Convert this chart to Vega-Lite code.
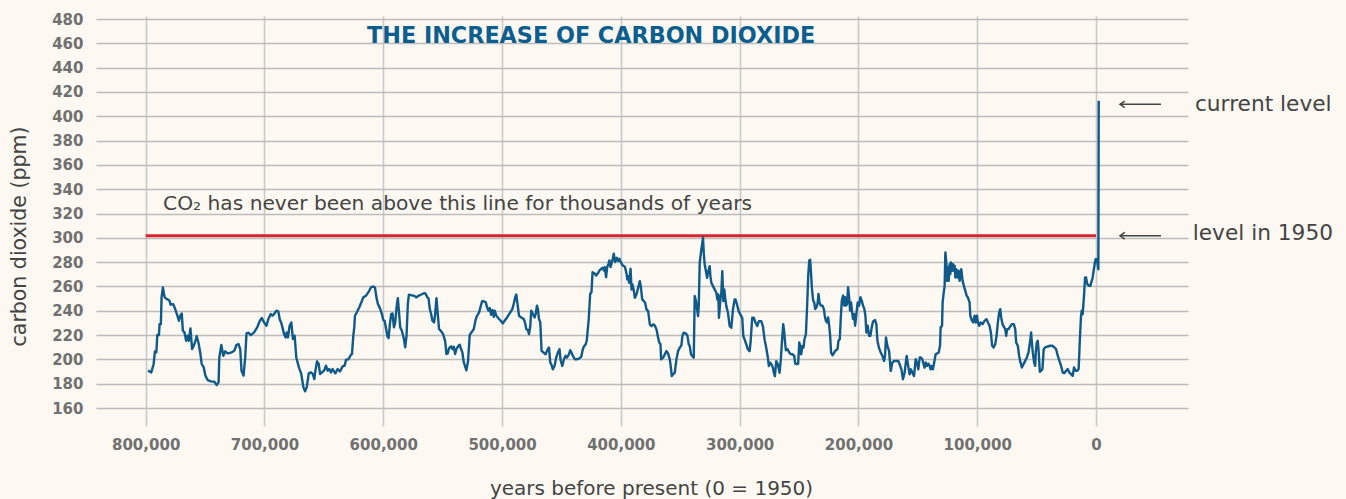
{
  "$schema": "https://vega.github.io/schema/vega-lite/v6.json",
  "width": 1092,
  "height": 392,
  "autosize": {"type": "none"},
  "padding": {"left": 96, "top": 16, "right": 158, "bottom": 91},
  "background": "#fdf9f2",
  "config": {
    "view": {"stroke": null},
    "axis": {"labelFont": "DejaVu Sans", "labelFontWeight": "bold", "labelFontSize": 15, "labelColor": "#707070"}
  },
  "datasets": {
    "co2": [
      {"year":798000,"ppm":190.7},{"year":795300,"ppm":189.3},{"year":793300,"ppm":196},{"year":792200,"ppm":206.6},{"year":791000,"ppm":205.8},{"year":790200,"ppm":220},{"year":788800,"ppm":220},{"year":788300,"ppm":229},{"year":787200,"ppm":229},{"year":786600,"ppm":251},{"year":785500,"ppm":259.2},{"year":784000,"ppm":251},{"year":782100,"ppm":249.6},{"year":779900,"ppm":248.2},{"year":779000,"ppm":245},{"year":777000,"ppm":245.5},{"year":775400,"ppm":242.2},{"year":773700,"ppm":237.3},{"year":772000,"ppm":231.8},{"year":770900,"ppm":235.9},{"year":769600,"ppm":237.8},{"year":768700,"ppm":223.6},{"year":767300,"ppm":222.2},{"year":765900,"ppm":215.3},{"year":764800,"ppm":219.5},{"year":763700,"ppm":215.3},{"year":762300,"ppm":225.5},{"year":760900,"ppm":208.5},{"year":759500,"ppm":211.2},{"year":758100,"ppm":215.3},{"year":757000,"ppm":219.2},{"year":755300,"ppm":212.6},{"year":753900,"ppm":204.4},{"year":752800,"ppm":196.2},{"year":751100,"ppm":193.4},{"year":749700,"ppm":186.6},{"year":747800,"ppm":183},{"year":745000,"ppm":181.9},{"year":742200,"ppm":181.6},{"year":740200,"ppm":178.9},{"year":738600,"ppm":181.1},{"year":738000,"ppm":201.6},{"year":736300,"ppm":211.8},{"year":734600,"ppm":203},{"year":733000,"ppm":206.6},{"year":731000,"ppm":204.9},{"year":728200,"ppm":205.5},{"year":725400,"ppm":207.1},{"year":723500,"ppm":212},{"year":721800,"ppm":212.6},{"year":720400,"ppm":208.5},{"year":719300,"ppm":190.7},{"year":717600,"ppm":186.6},{"year":716200,"ppm":201.6},{"year":715100,"ppm":221.4},{"year":713400,"ppm":221.9},{"year":711500,"ppm":220},{"year":708700,"ppm":222.2},{"year":705900,"ppm":226.8},{"year":703900,"ppm":231.8},{"year":702200,"ppm":234},{"year":700300,"ppm":230.4},{"year":698300,"ppm":227.7},{"year":696700,"ppm":233.2},{"year":694700,"ppm":237.3},{"year":693300,"ppm":235.9},{"year":691900,"ppm":237.3},{"year":690000,"ppm":240},{"year":688300,"ppm":239.5},{"year":687200,"ppm":233.2},{"year":685500,"ppm":229},{"year":683500,"ppm":220.8},{"year":682100,"ppm":218.1},{"year":681300,"ppm":222.2},{"year":680200,"ppm":218.1},{"year":678800,"ppm":227.7},{"year":677400,"ppm":230.4},{"year":676000,"ppm":216.7},{"year":674600,"ppm":219.5},{"year":673200,"ppm":201.6},{"year":671000,"ppm":193.4},{"year":669000,"ppm":188},
      {"year":667200,"ppm":177},{"year":665800,"ppm":173.7},{"year":664400,"ppm":177},{"year":662700,"ppm":188.5},{"year":660800,"ppm":189.3},{"year":659400,"ppm":188},{"year":658000,"ppm":183.8},{"year":657100,"ppm":190.7},{"year":655700,"ppm":198.4},{"year":654300,"ppm":196.2},{"year":653200,"ppm":188},{"year":651500,"ppm":189.3},{"year":649600,"ppm":191.2},{"year":648200,"ppm":194.8},{"year":646800,"ppm":190.7},{"year":645400,"ppm":192},{"year":644000,"ppm":189.3},{"year":642600,"ppm":192},{"year":640300,"ppm":188.5},{"year":638400,"ppm":192},{"year":636400,"ppm":190.1},{"year":634200,"ppm":194.2},{"year":632500,"ppm":194.8},{"year":631400,"ppm":199.5},{"year":629100,"ppm":200.3},{"year":627200,"ppm":203.8},{"year":626300,"ppm":204.4},{"year":625200,"ppm":219.5},{"year":624400,"ppm":226.3},{"year":623800,"ppm":235.9},{"year":621600,"ppm":240},{"year":620200,"ppm":242.7},{"year":618500,"ppm":246.8},{"year":616800,"ppm":251},{"year":614600,"ppm":252.3},{"year":611800,"ppm":256.4},{"year":610400,"ppm":259.2},{"year":608400,"ppm":260},{"year":607000,"ppm":259.2},{"year":605600,"ppm":250.4},{"year":604500,"ppm":245.5},{"year":602800,"ppm":242.2},{"year":601100,"ppm":237.3},{"year":600000,"ppm":232.3},{"year":598900,"ppm":231.8},{"year":597800,"ppm":226.3},{"year":596400,"ppm":218.6},{"year":595500,"ppm":217.5},{"year":594400,"ppm":229},{"year":593300,"ppm":237.3},{"year":592200,"ppm":237.8},{"year":591000,"ppm":226.3},{"year":589900,"ppm":230.4},{"year":588800,"ppm":242.7},{"year":587700,"ppm":250.4},{"year":586600,"ppm":237.3},{"year":585700,"ppm":226.3},{"year":584300,"ppm":223.6},{"year":582600,"ppm":216.7},{"year":581500,"ppm":209.9},{"year":580400,"ppm":219.5},{"year":579300,"ppm":245.5},{"year":578400,"ppm":253.2},{"year":576800,"ppm":252.9},{"year":574000,"ppm":252.3},{"year":572000,"ppm":251},{"year":570300,"ppm":252.3},{"year":568400,"ppm":253.2},{"year":566400,"ppm":254.2},{"year":564700,"ppm":254.5},{"year":562800,"ppm":251},{"year":561900,"ppm":250.4},{"year":560800,"ppm":241.4},{"year":559700,"ppm":237.3},{"year":558600,"ppm":231.8},{"year":557200,"ppm":230.4},{"year":556300,"ppm":237.3},{"year":555200,"ppm":250.4},{"year":554100,"ppm":237.3},{"year":553000,"ppm":224.9},{"year":551600,"ppm":223.6},{"year":549600,"ppm":220.8},{"year":547900,"ppm":215.3},{"year":546800,"ppm":204.4},{"year":545700,"ppm":204.9},{"year":544600,"ppm":209.3},{"year":542900,"ppm":210.7},{"year":541800,"ppm":208.5},{"year":540600,"ppm":210.4},{"year":539500,"ppm":204.4},{"year":538400,"ppm":208.5},{"year":536700,"ppm":211.2},{"year":535600,"ppm":212},{"year":534500,"ppm":208.5},{"year":533400,"ppm":205.8},{"year":532200,"ppm":197.5},
      {"year":530000,"ppm":191},{"year":528600,"ppm":198.7},{"year":527200,"ppm":220.2},{"year":525800,"ppm":222.1},{"year":523800,"ppm":224.9},{"year":522100,"ppm":233.2},{"year":521000,"ppm":235.9},{"year":519300,"ppm":238.7},{"year":518200,"ppm":242.8},{"year":516800,"ppm":247.8},{"year":515400,"ppm":247.8},{"year":513700,"ppm":246.9},{"year":512600,"ppm":242.8},{"year":511500,"ppm":240.1},{"year":510400,"ppm":242.3},{"year":509200,"ppm":236.7},{"year":508100,"ppm":240.6},{"year":507000,"ppm":235.1},{"year":506200,"ppm":240.1},{"year":504800,"ppm":235.9},{"year":502500,"ppm":233.2},{"year":500600,"ppm":231.2},{"year":499200,"ppm":229.6},{"year":497800,"ppm":231.8},{"year":495800,"ppm":234.5},{"year":493600,"ppm":237.9},{"year":491300,"ppm":241.4},{"year":490200,"ppm":245.6},{"year":488800,"ppm":251.6},{"year":488000,"ppm":253.3},{"year":486600,"ppm":242.8},{"year":485700,"ppm":235.9},{"year":483800,"ppm":234.5},{"year":481800,"ppm":233.2},{"year":480700,"ppm":230.4},{"year":479600,"ppm":224.9},{"year":478200,"ppm":224.1},{"year":477300,"ppm":220.8},{"year":476200,"ppm":227.7},{"year":475400,"ppm":240.1},{"year":474000,"ppm":237.3},{"year":472600,"ppm":234.5},{"year":471700,"ppm":237.3},{"year":470600,"ppm":244.2},{"year":469800,"ppm":241.4},{"year":468900,"ppm":233.2},{"year":467800,"ppm":230.4},{"year":466700,"ppm":207},{"year":465000,"ppm":205.6},{"year":463300,"ppm":204.2},{"year":462200,"ppm":207},{"year":460500,"ppm":209.8},{"year":459400,"ppm":197.4},{"year":458600,"ppm":196},{"year":457200,"ppm":191.8},{"year":455800,"ppm":194.6},{"year":454400,"ppm":201.5},{"year":453000,"ppm":205.6},{"year":451600,"ppm":208.4},{"year":450700,"ppm":199.3},{"year":449300,"ppm":194.6},{"year":447900,"ppm":200.1},{"year":446500,"ppm":202.9},{"year":445400,"ppm":201.5},{"year":443700,"ppm":204.2},{"year":442600,"ppm":207.5},{"year":441500,"ppm":205.6},{"year":440400,"ppm":202.9},{"year":438700,"ppm":200.1},{"year":437000,"ppm":200.1},{"year":435300,"ppm":200.7},{"year":433400,"ppm":202},{"year":432000,"ppm":208.4},{"year":431200,"ppm":210.3},{"year":429800,"ppm":212},{"year":428700,"ppm":215.3},{"year":427800,"ppm":224.9},{"year":427000,"ppm":233.2},{"year":425800,"ppm":253.8},{"year":424700,"ppm":255.2},{"year":423800,"ppm":271.7},{"year":422200,"ppm":270.9},{"year":420800,"ppm":269},{"year":419600,"ppm":270.4},{"year":418000,"ppm":273.1},{"year":416600,"ppm":274.5},{"year":415200,"ppm":275.3},{"year":414300,"ppm":273.1},{"year":413500,"ppm":275.9},{"year":412400,"ppm":267.6},{"year":411500,"ppm":275.9},{"year":410400,"ppm":278.6},{"year":409600,"ppm":281.4},{"year":408700,"ppm":275.9},{"year":407900,"ppm":278.6},{"year":406800,"ppm":282.8},{"year":405900,"ppm":286.9},{"year":404800,"ppm":280},{"year":403400,"ppm":283.6},{"year":402300,"ppm":280.8},{"year":401200,"ppm":282.8},{"year":400000,"ppm":280},{"year":398400,"ppm":277.2},
      {"year":396600,"ppm":276.2},{"year":395200,"ppm":270.7},{"year":394600,"ppm":265.8},{"year":393800,"ppm":268.5},{"year":393000,"ppm":263},{"year":391800,"ppm":274.5},{"year":391000,"ppm":257.5},{"year":390200,"ppm":261.6},{"year":389000,"ppm":256.2},{"year":388200,"ppm":250.7},{"year":386800,"ppm":253.4},{"year":385400,"ppm":258.9},{"year":384000,"ppm":264.4},{"year":383200,"ppm":260.3},{"year":382000,"ppm":249.3},{"year":380600,"ppm":247.9},{"year":379500,"ppm":246.6},{"year":378400,"ppm":241.1},{"year":377000,"ppm":239.7},{"year":375600,"ppm":228.8},{"year":374200,"ppm":227.4},{"year":372800,"ppm":228.8},{"year":371400,"ppm":227.9},{"year":370000,"ppm":224.7},{"year":368600,"ppm":217.8},{"year":367800,"ppm":214.2},{"year":366600,"ppm":212.3},{"year":366100,"ppm":200},{"year":364400,"ppm":201.4},{"year":363000,"ppm":204.1},{"year":361600,"ppm":206.8},{"year":360200,"ppm":204.9},{"year":358800,"ppm":200},{"year":358000,"ppm":194.5},{"year":357100,"ppm":186.3},{"year":356000,"ppm":187.7},{"year":354600,"ppm":189},{"year":353200,"ppm":200},{"year":351800,"ppm":206.8},{"year":350400,"ppm":209.6},{"year":349000,"ppm":211.5},{"year":348200,"ppm":219.2},{"year":347100,"ppm":221.9},{"year":345400,"ppm":221.4},{"year":344000,"ppm":219.7},{"year":342800,"ppm":212.3},{"year":342000,"ppm":211},{"year":340900,"ppm":204.1},{"year":339800,"ppm":202.7},{"year":338600,"ppm":201.4},{"year":337800,"ppm":252.1},{"year":336700,"ppm":247.9},{"year":335800,"ppm":241.1},{"year":335000,"ppm":235.6},{"year":334400,"ppm":243.8},{"year":333600,"ppm":279.5},{"year":332200,"ppm":290.4},{"year":330800,"ppm":300},{"year":330200,"ppm":287.7},{"year":329400,"ppm":278.1},{"year":328600,"ppm":274},{"year":327400,"ppm":267.1},{"year":326300,"ppm":272.6},{"year":325200,"ppm":276.7},{"year":324600,"ppm":268.5},{"year":323800,"ppm":263},{"year":322400,"ppm":260.3},{"year":321000,"ppm":257.5},{"year":319600,"ppm":254.8},{"year":318800,"ppm":249.3},{"year":317900,"ppm":253.4},{"year":317400,"ppm":234.2},{"year":316200,"ppm":249.3},{"year":315400,"ppm":254.8},{"year":314600,"ppm":272.6},{"year":313700,"ppm":247.9},{"year":312900,"ppm":257.5},{"year":312000,"ppm":249.3},{"year":311200,"ppm":243.8},{"year":309800,"ppm":238.4},{"year":308400,"ppm":227.4},{"year":307000,"ppm":226},{"year":305600,"ppm":241.1},{"year":304200,"ppm":249.3},{"year":303400,"ppm":249.3},{"year":302200,"ppm":245.2},{"year":300800,"ppm":239.7},{"year":299400,"ppm":237},{"year":297800,"ppm":234.2},{"year":296900,"ppm":219.2},{"year":295800,"ppm":216.4},{"year":294400,"ppm":212.3},{"year":293000,"ppm":208.2},{"year":291600,"ppm":206.8},{"year":290800,"ppm":213.7},{"year":289400,"ppm":234.2},{"year":288000,"ppm":234.2},{"year":286600,"ppm":230.1},{"year":285200,"ppm":227.4},{"year":283800,"ppm":231.5},{"year":281800,"ppm":231.5},{"year":280400,"ppm":227.4},{"year":279000,"ppm":216.4},{"year":277600,"ppm":209.6},{"year":276200,"ppm":201.4},{"year":275400,"ppm":194.5},{"year":274200,"ppm":197.3},{"year":273100,"ppm":195.9},{"year":272000,"ppm":193.2},{"year":271200,"ppm":189},{"year":270300,"ppm":186.3},{"year":269200,"ppm":198.6},{"year":267800,"ppm":195.9},{"year":266400,"ppm":189},
      {"year":265300,"ppm":200},{"year":264500,"ppm":212.5},{"year":263300,"ppm":229},{"year":262400,"ppm":222.1},{"year":261600,"ppm":212.5},{"year":261000,"ppm":207.5},{"year":259600,"ppm":208.4},{"year":258200,"ppm":205.6},{"year":256800,"ppm":204.2},{"year":255400,"ppm":204.2},{"year":254000,"ppm":202.9},{"year":253200,"ppm":196.5},{"year":251800,"ppm":196},{"year":250700,"ppm":196.5},{"year":249800,"ppm":213.9},{"year":249000,"ppm":211.1},{"year":248200,"ppm":204.2},{"year":247000,"ppm":211.1},{"year":246200,"ppm":209.8},{"year":245400,"ppm":216.6},{"year":244200,"ppm":220.8},{"year":243100,"ppm":245.6},{"year":242300,"ppm":267.6},{"year":241400,"ppm":281.4},{"year":240600,"ppm":281.9},{"year":240000,"ppm":273.1},{"year":239200,"ppm":259.3},{"year":238100,"ppm":248.3},{"year":237200,"ppm":246.9},{"year":236400,"ppm":241.4},{"year":235300,"ppm":242.8},{"year":234400,"ppm":245.6},{"year":233600,"ppm":253.8},{"year":232800,"ppm":246.9},{"year":231600,"ppm":244.2},{"year":230200,"ppm":244.2},{"year":229100,"ppm":241.4},{"year":228300,"ppm":235.9},{"year":227400,"ppm":231.8},{"year":226300,"ppm":230.4},{"year":225500,"ppm":234.5},{"year":224600,"ppm":227.7},{"year":223800,"ppm":219.4},{"year":223000,"ppm":205.6},{"year":221800,"ppm":203.4},{"year":220400,"ppm":205.6},{"year":219000,"ppm":207.5},{"year":217600,"ppm":208.4},{"year":216800,"ppm":215.3},{"year":215700,"ppm":216.6},{"year":214800,"ppm":234.5},{"year":214000,"ppm":248.3},{"year":212900,"ppm":252.5},{"year":212000,"ppm":244.2},{"year":211200,"ppm":251.1},{"year":210400,"ppm":244.2},{"year":209500,"ppm":245.6},{"year":208700,"ppm":259.3},{"year":207800,"ppm":251.1},{"year":207000,"ppm":240.1},{"year":206200,"ppm":246.9},{"year":205300,"ppm":238.7},{"year":204500,"ppm":233.2},{"year":203600,"ppm":237.3},{"year":202800,"ppm":227.7},{"year":201700,"ppm":237.3},{"year":200600,"ppm":246.9},{"year":199400,"ppm":244.2},{"year":198300,"ppm":251.1},{"year":197200,"ppm":248.3},{"year":196100,"ppm":244.2},{"year":195000,"ppm":241.4},{"year":194100,"ppm":235.9},{"year":193300,"ppm":222.1},{"year":192200,"ppm":227.7},{"year":191000,"ppm":219.4},{"year":189900,"ppm":219.4},{"year":188800,"ppm":226.3},{"year":187700,"ppm":231.2},{"year":186000,"ppm":232.3},{"year":184900,"ppm":229},{"year":184000,"ppm":215.3},{"year":182600,"ppm":209.2},{"year":181200,"ppm":205.6},{"year":179800,"ppm":202.9},{"year":178400,"ppm":198.7},{"year":177600,"ppm":202.9},{"year":176800,"ppm":218},{"year":175600,"ppm":211.1},{"year":174200,"ppm":207},{"year":172800,"ppm":190.5},{"year":171400,"ppm":197.4},{"year":170000,"ppm":198.7},{"year":168100,"ppm":198.7},{"year":166400,"ppm":198.7},{"year":165300,"ppm":196},{"year":163600,"ppm":191},{"year":162500,"ppm":183.6},{"year":161100,"ppm":189.1},{"year":159400,"ppm":202.9},{"year":158300,"ppm":196},{"year":156900,"ppm":187.7},{"year":155800,"ppm":191.8},{"year":154600,"ppm":189.1},{"year":153200,"ppm":186.3},{"year":151800,"ppm":200.1},{"year":150700,"ppm":197.4},{"year":149600,"ppm":191.8},{"year":148400,"ppm":201.5},{"year":147400,"ppm":201.5},{"year":146200,"ppm":200.1},{"year":145100,"ppm":196},{"year":144300,"ppm":193.2},{"year":143400,"ppm":197.4},{"year":142300,"ppm":194.6},{"year":141200,"ppm":196.5},{"year":140100,"ppm":194.6},{"year":139200,"ppm":191.8},{"year":138400,"ppm":194.6},{"year":137300,"ppm":191.8},{"year":136200,"ppm":197.4},{"year":135000,"ppm":204.2},
      {"year":132400,"ppm":205.7},{"year":131300,"ppm":211.2},{"year":130800,"ppm":226.3},{"year":129600,"ppm":227.6},{"year":129100,"ppm":246.8},{"year":128200,"ppm":255},{"year":127400,"ppm":260.5},{"year":126800,"ppm":288},{"year":126000,"ppm":279.7},{"year":125400,"ppm":264.6},{"year":124600,"ppm":275.6},{"year":124000,"ppm":264.6},{"year":123200,"ppm":278.4},{"year":122600,"ppm":270.1},{"year":122100,"ppm":279.7},{"year":121200,"ppm":272.9},{"year":120400,"ppm":278.4},{"year":119600,"ppm":272.9},{"year":119000,"ppm":277},{"year":118400,"ppm":267.4},{"year":117600,"ppm":274.2},{"year":116500,"ppm":267.4},{"year":115600,"ppm":272.9},{"year":114800,"ppm":264.6},{"year":114200,"ppm":268.8},{"year":113400,"ppm":274.2},{"year":112300,"ppm":264.6},{"year":111200,"ppm":260.5},{"year":110000,"ppm":256.4},{"year":108900,"ppm":252.3},{"year":107800,"ppm":250.9},{"year":106400,"ppm":246.8},{"year":105800,"ppm":235.9},{"year":104400,"ppm":231.7},{"year":103300,"ppm":230.4},{"year":102200,"ppm":235.9},{"year":101100,"ppm":230.4},{"year":100200,"ppm":235.9},{"year":99400,"ppm":230.4},{"year":98300,"ppm":227.6},{"year":97200,"ppm":230.4},{"year":95500,"ppm":229},{"year":93800,"ppm":231.7},{"year":92100,"ppm":233.1},{"year":91000,"ppm":230.4},{"year":89600,"ppm":227.6},{"year":88500,"ppm":222.1},{"year":87400,"ppm":211.2},{"year":86200,"ppm":209.8},{"year":84800,"ppm":212.5},{"year":83700,"ppm":219.4},{"year":82600,"ppm":230.4},{"year":81500,"ppm":238.6},{"year":80600,"ppm":241.3},{"year":79800,"ppm":234.5},{"year":78700,"ppm":229},{"year":77300,"ppm":226.3},{"year":76400,"ppm":224.9},{"year":75600,"ppm":219.4},{"year":74800,"ppm":224.9},{"year":73600,"ppm":224.9},{"year":72200,"ppm":227.1},{"year":70800,"ppm":229},{"year":69200,"ppm":229},{"year":68000,"ppm":224.9},{"year":67200,"ppm":213.9},{"year":65800,"ppm":211.2},{"year":64700,"ppm":203},{"year":63600,"ppm":197.5},{"year":62400,"ppm":193.4},{"year":61000,"ppm":196.1},{"year":59600,"ppm":198.8},{"year":58200,"ppm":201.6},{"year":56800,"ppm":205.7},{"year":55400,"ppm":215.3},{"year":54600,"ppm":222.1},{"year":54000,"ppm":213.9},{"year":53200,"ppm":205.7},{"year":52100,"ppm":197.5},{"year":51200,"ppm":194.7},{"year":50700,"ppm":205.7},{"year":49800,"ppm":213.9},{"year":49000,"ppm":215.3},{"year":48200,"ppm":205.7},{"year":47300,"ppm":189.8},{"year":46200,"ppm":190.6},{"year":45100,"ppm":192},{"year":44000,"ppm":208.4},{"year":42800,"ppm":209.8},{"year":40600,"ppm":210.6},{"year":38600,"ppm":211.2},{"year":36700,"ppm":211.2},{"year":35000,"ppm":209.8},{"year":33600,"ppm":208.4},{"year":32200,"ppm":203},{"year":30800,"ppm":198.8},{"year":29400,"ppm":194.7},{"year":28000,"ppm":189.2},{"year":26600,"ppm":188.7},{"year":25200,"ppm":190.6},{"year":23800,"ppm":192},{"year":22400,"ppm":189.2},{"year":21000,"ppm":187.9},{"year":19600,"ppm":186.5},{"year":18500,"ppm":193.4},{"year":17100,"ppm":190.6},{"year":15700,"ppm":190.6},{"year":14600,"ppm":192},{"year":13700,"ppm":213.9},{"year":12600,"ppm":235.9},{"year":12000,"ppm":240},{"year":11200,"ppm":237.2},{"year":10100,"ppm":252.3},{"year":9200,"ppm":267.4},{"year":8400,"ppm":267.4},{"year":7300,"ppm":261.9},{"year":5900,"ppm":260.5},{"year":4800,"ppm":260.5},{"year":3600,"ppm":264.6},{"year":2800,"ppm":267.4},{"year":2000,"ppm":272.9},{"year":1100,"ppm":278.4},{"year":300,"ppm":282.5},{"year":-300,"ppm":280.3},{"year":-800,"ppm":282.5},{"year":-1400,"ppm":278.4},{"year":-2000,"ppm":274.2},{"year":-2300,"ppm":412.7}
    ]
  },
  "encoding": {
    "x": {
      "field": "year",
      "type": "quantitative",
      "scale": {"domain": [-77450, 841800], "reverse": true, "nice": false, "zero": false},
      "axis": {
        "values": [0, 100000, 200000, 300000, 400000, 500000, 600000, 700000, 800000],
        "format": ",d", "labelOverlap": false,
        "grid": true, "gridColor": "#c9c9c9", "gridWidth": 1.6,
        "domain": false,
        "ticks": true, "tickSize": 18, "tickColor": "#c9c9c9", "tickWidth": 1.6,
        "labelFont": "DejaVu Sans", "labelFontWeight": "bold", "labelFontSize": 15, "labelColor": "#707070",
        "labelBaseline": "alphabetic", "labelPadding": 23,
        "title": "years before present (0 = 1950)",
        "titleFont": "DejaVu Sans", "titleFontSize": 20, "titleFontWeight": "normal", "titleColor": "#444444",
        "titleX": 555, "titleY": 86, "titleAnchor": "middle", "titleAlign": "center", "titleBaseline": "alphabetic"
      }
    },
    "y": {
      "field": "ppm",
      "type": "quantitative",
      "scale": {"domain": [160, 482.5], "nice": false, "zero": false},
      "axis": {
        "values": [160, 180, 200, 220, 240, 260, 280, 300, 320, 340, 360, 380, 400, 420, 440, 460, 480],
        "labelOverlap": false,
        "grid": true, "gridColor": "#bcbcbc", "gridWidth": 1.5,
        "domain": false, "ticks": false, "tickSize": 0,
        "labelFont": "DejaVu Sans", "labelFontWeight": "bold", "labelFontSize": 15, "labelColor": "#707070",
        "labelPadding": 13, "labelBaseline": "middle",
        "title": "carbon dioxide (ppm)",
        "titleFont": "DejaVu Sans", "titleFontSize": 20.5, "titleFontWeight": "normal", "titleColor": "#444444",
        "titleX": -77, "titleY": 220, "titleAnchor": "middle", "titleAlign": "center", "titleBaseline": "middle", "titleAngle": 270
      }
    }
  },
  "layer": [
    {
      "data": {"values": [{"year": 800000, "to": 0, "ppm": 301.7}]},
      "mark": {"type": "rule", "color": "#d8242f", "strokeWidth": 3},
      "encoding": {"x2": {"field": "to"}}
    },
    {
      "data": {"name": "co2"},
      "mark": {"type": "line", "color": "#0f5a89", "strokeWidth": 2.4, "strokeJoin": "round"},
      "encoding": {}
    },
    {
      "data": {"values": [{"year": -20200, "to": -54700, "ppm": 409.8}, {"year": -20200, "to": -54700, "ppm": 301.7}]},
      "mark": {"type": "rule", "color": "#444444", "strokeWidth": 1.5},
      "encoding": {"x2": {"field": "to"}}
    },
    {
      "data": {"values": [{"year": -20200, "ppm": 409.8}, {"year": -20200, "ppm": 301.7}]},
      "mark": {"type": "point", "shape": "M1,-0.7L0,0L1,0.7", "filled": false, "size": 90, "color": "#444444", "strokeWidth": 1.5, "opacity": 1},
      "encoding": {}
    },
    {
      "data": {"values": [{"label": "THE INCREASE OF CARBON DIOXIDE", "year": 425000, "ppm": 460}]},
      "mark": {"type": "text", "font": "DejaVu Sans", "fontWeight": "bold", "fontSize": 22.3, "color": "#0b5e8e", "align": "center", "baseline": "alphabetic"},
      "encoding": {"text": {"field": "label"}}
    },
    {
      "data": {"values": [{"label": "CO₂ has never been above this line for thousands of years", "year": 785350, "ppm": 322.9}]},
      "mark": {"type": "text", "font": "DejaVu Sans", "fontSize": 20.2, "color": "#444444", "align": "left", "baseline": "alphabetic"},
      "encoding": {"text": {"field": "label"}}
    },
    {
      "data": {"values": [{"label": "current level", "year": -83300, "ppm": 404.3}, {"label": "level in 1950", "year": -81400, "ppm": 298.2}]},
      "mark": {"type": "text", "font": "DejaVu Sans", "fontSize": 21.7, "color": "#444444", "align": "left", "baseline": "alphabetic"},
      "encoding": {"text": {"field": "label"}}
    }
  ]
}
